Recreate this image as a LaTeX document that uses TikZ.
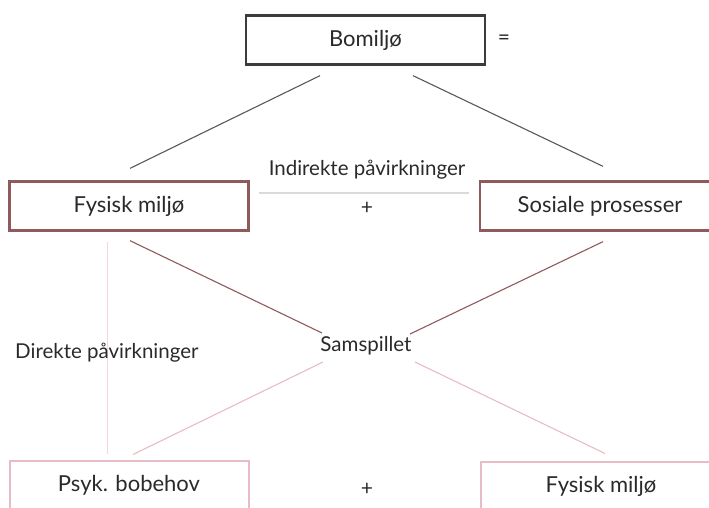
\documentclass[tikz,border=0pt]{standalone}
\usepackage{fontspec}
\setmainfont{Lato}
\usepackage{xcolor}
\usepackage{tikz}
\usetikzlibrary{positioning,calc}

\definecolor{darkbox}{HTML}{3C3B3D}
\definecolor{midbox}{HTML}{8E5A5C}
\definecolor{lightbox}{HTML}{E8BCC4}
\definecolor{faintline}{HTML}{DADADA}
\definecolor{textgray}{HTML}{2A2A2A}

\tikzset{
  box/.style={draw, line width=2.3pt, minimum width=239pt, minimum height=49pt, inner sep=0pt, text=textgray, font=\fontsize{22}{26}\selectfont},
  label/.style={inner sep=1pt, text=textgray, font=\fontsize{20.5}{24}\selectfont},
  sign/.style={inner sep=1pt, text=textgray, font=\fontsize{21}{24}\selectfont}
}

\begin{document}
\begin{tikzpicture}[x=1pt,y=-1pt]
\useasboundingbox (0,0) rectangle (709,507);
\clip (0,0) rectangle (709,507);

\node[box, draw=darkbox] (bomiljo) at (365.5,40) {Bomiljø};
\node[sign] (lik) at (504,40) {=};

\node[box, draw=midbox] (fysisk) at (129,206) {Fysisk miljø};
\node[box, draw=midbox, minimum width=240pt] (sosiale) at (600,206) {Sosiale prosesser};
\node[label] (indirekte) at (367,170) {Indirekte påvirkninger};
\node[sign] (pluss1) at (367,208) {+};

\node[label] (samspillet) at (366,346) {Samspillet};

\node[box, draw=lightbox, line width=2pt] (psyk) at (129,485) {Psyk. bobehov};
\node[box, draw=lightbox, line width=2pt, minimum width=240pt] (fysisk2) at (601,486) {Fysisk miljø};
\node[sign] (pluss2) at (367,489) {+};

\draw[darkbox!85, line width=1.1pt] ([shift={(-45.5,10)}]bomiljo.south) -- ([shift={(1,-12)}]fysisk.north);
\draw[darkbox!85, line width=1.1pt] ([shift={(47.5,10)}]bomiljo.south) -- ([shift={(3,-14)}]sosiale.north);
\draw[faintline, line width=1.2pt] ([shift={(9,-13)}]fysisk.east) -- ([shift={(-10,-13)}]sosiale.west);

\draw[midbox, line width=1.1pt] ([shift={(1,9)}]fysisk.south) -- ([shift={(-44,-13)}]samspillet.center);
\draw[midbox, line width=1.1pt] ([shift={(3,10)}]sosiale.south) -- ([shift={(44,-12)}]samspillet.center);

\draw[lightbox, line width=1.1pt] ([shift={(-43,16)}]samspillet.center) -- ([shift={(4,-5)}]psyk.north);
\draw[lightbox, line width=1.1pt] ([shift={(49,16)}]samspillet.center) -- ([shift={(4,-7)}]fysisk2.north);
\draw[lightbox!60, line width=1pt] ([shift={(-22,10)}]fysisk.south) -- ([shift={(-22,-6)}]psyk.north);

\node[label, anchor=west] (direkte) at (14,353) {Direkte påvirkninger};
\end{tikzpicture}
\end{document}
